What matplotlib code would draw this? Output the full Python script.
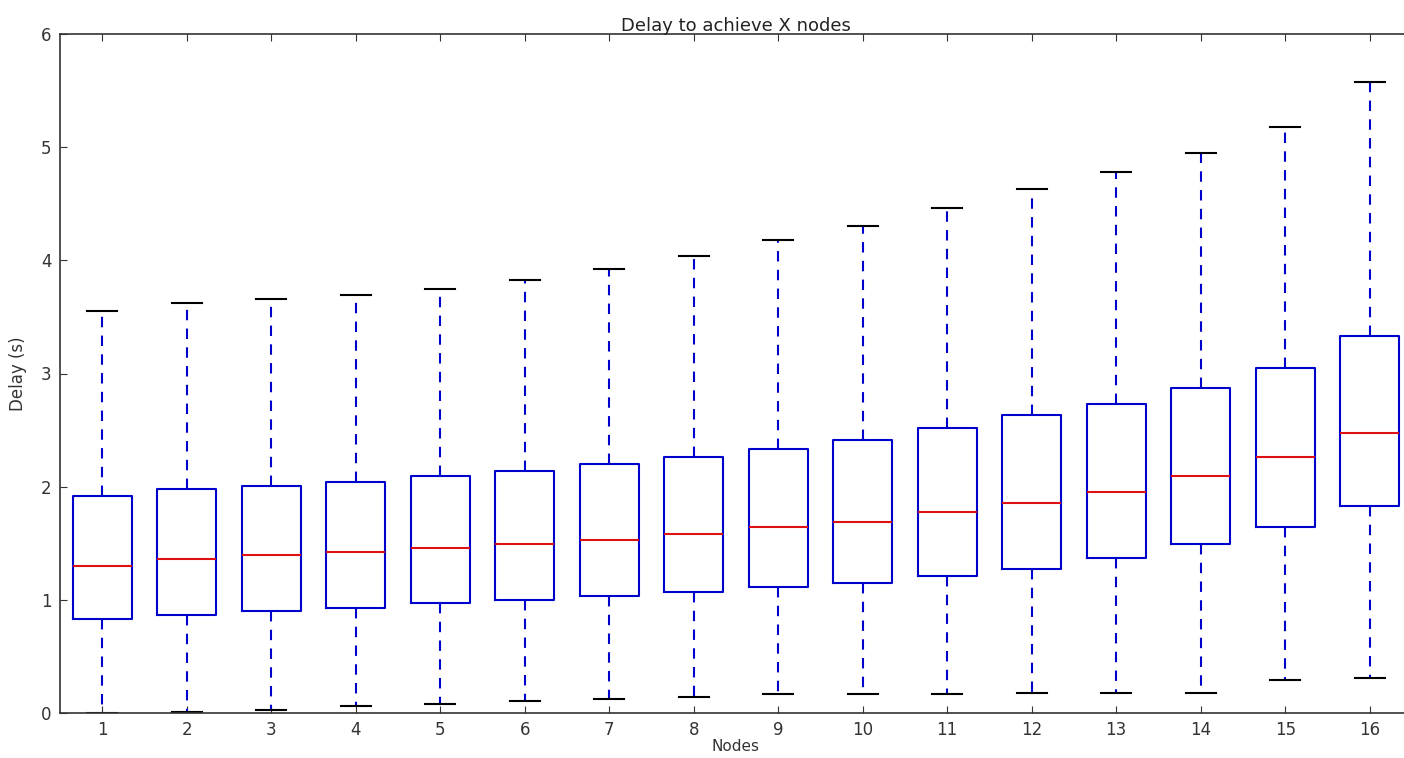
import matplotlib
matplotlib.use("Agg")
import matplotlib.pyplot as plt

# Box stats (delay in seconds)
nodes = list(range(1, 17))
q1 = [0.83, 0.87, 0.90, 0.93, 0.97, 1.00, 1.03, 1.07, 1.11, 1.15, 1.21, 1.27, 1.37, 1.49, 1.64, 1.83]
medians = [1.30, 1.36, 1.40, 1.42, 1.46, 1.49, 1.53, 1.58, 1.64, 1.69, 1.78, 1.86, 1.95, 2.09, 2.26, 2.47]
q3 = [1.92, 1.98, 2.01, 2.04, 2.09, 2.14, 2.20, 2.26, 2.33, 2.41, 2.52, 2.63, 2.73, 2.87, 3.05, 3.33]
whisker_low = [0.00, 0.01, 0.03, 0.06, 0.08, 0.11, 0.12, 0.14, 0.17, 0.17, 0.17, 0.18, 0.18, 0.18, 0.29, 0.31]
whisker_high = [3.55, 3.62, 3.66, 3.69, 3.75, 3.83, 3.92, 4.04, 4.18, 4.30, 4.46, 4.63, 4.78, 4.95, 5.18, 5.58]

stats = []
for i, n in enumerate(nodes):
    stats.append({
        "label": str(n),
        "q1": q1[i],
        "med": medians[i],
        "q3": q3[i],
        "whislo": whisker_low[i],
        "whishi": whisker_high[i],
        "fliers": [],
    })

plt.rcParams["font.family"] = "DejaVu Sans"

fig = plt.figure(figsize=(14.04, 7.58), dpi=100, facecolor="white")
ax = fig.add_axes([60 / 1404, 45 / 758, 1352 / 1404, 679 / 758])

ax.bxp(
    stats,
    positions=nodes,
    widths=0.7,
    showfliers=False,
    boxprops=dict(color="#0000cc", linewidth=1.5),
    medianprops=dict(color="#dd1111", linewidth=1.5),
    whiskerprops=dict(color="#0000cc", linewidth=1.5, linestyle=(0, (5, 4))),
    capprops=dict(color="black", linewidth=1.5),
)

ax.set_xlim(0.5, 16.5)
ax.set_ylim(0, 6)
ax.set_yticks(range(0, 7))
ax.set_title("Delay to achieve X nodes", fontsize=13, pad=2, color="#222222")
ax.set_xlabel("Nodes", fontsize=11, labelpad=0, color="#333333")
ax.set_ylabel("Delay (s)", fontsize=12, labelpad=10, color="#333333")
ax.tick_params(direction="in", top=True, right=True, labelsize=12, length=5,
               pad=6, colors="#333333")
for sp in ax.spines.values():
    sp.set_color("#333333")
    sp.set_linewidth(1.2)

fig.savefig("out.png", dpi=100, facecolor="white")
